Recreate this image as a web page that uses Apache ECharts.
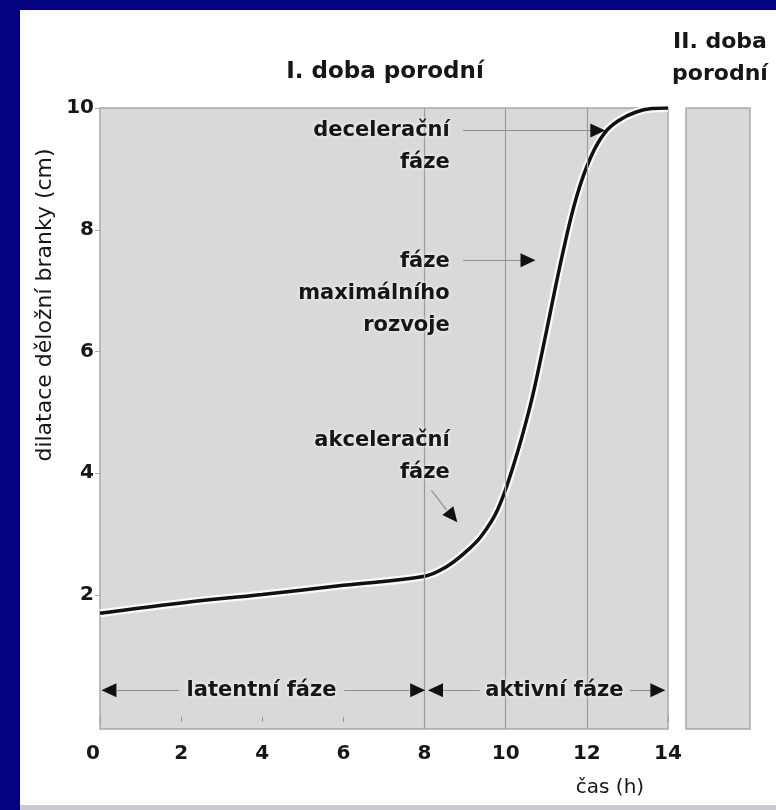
<!DOCTYPE html>
<html><head><meta charset="utf-8">
<script src="https://cdn.jsdelivr.net/npm/echarts@6/dist/echarts.min.js"></script>
<style>
html,body{margin:0;padding:0;background:#03037f;width:776px;height:810px;overflow:hidden}
#frame{position:absolute;left:20px;top:10px;width:756px;height:795px;background:#fff}
#strip{position:absolute;left:20px;top:805px;width:756px;height:5px;background:#c9c9d2}
#chart{width:756px;height:795px}
</style></head><body>
<div id="frame"><div id="chart"></div></div><div id="strip"></div>
<script>
// Dilation curve (time in hours, cervical dilation in cm)
const timeH    = [0,    2,    4,    6,    8,    8.5,  9,    9.4,  9.8,  10.2, 10.6, 10.9, 11.4, 11.75, 12.1, 12.45, 12.8, 13.2, 13.6, 14];
const dilation = [1.70, 1.87, 2.01, 2.16, 2.31, 2.45, 2.70, 2.97, 3.40, 4.15, 5.10, 6.00, 7.60, 8.55,  9.20, 9.60,  9.80, 9.93, 9.99, 10.0];
const xTicks = [0, 2, 4, 6, 8, 10, 12, 14];
const yTicks = [2, 4, 6, 8, 10];
const phaseLines = [8, 10, 12];

// Annotation texts (anchor = right end of first line, data coords)
const noteTexts = ['decelerační\nfáze', 'fáze\nmaximálního\nrozvoje', 'akcelerační\nfáze'];
const noteX = [8.62, 8.62, 8.62];
const noteY = [9.63, 7.47, 4.54];
const noteLines = [2, 3, 2];

// Phase labels along the bottom
const phaseTexts = ['latentní fáze', 'aktivní fáze'];
const phaseX = [3.98, 11.2];
const phaseY = 0.435;

// Arrow shafts [x1,y1,x2,y2]
const shafts = [
  [8.95, 9.63, 12.15, 9.63],
  [8.95, 7.50, 10.40, 7.50],
  [8.17, 3.72, 8.54, 3.40],
  [0.42, 0.435, 1.95, 0.435],
  [6.02, 0.435, 7.63, 0.435],
  [8.42, 0.435, 9.36, 0.435],
  [13.06, 0.435, 13.60, 0.435]
];
// Arrow heads [x, y, rotation]
const heads = [
  [12.27, 9.63, -90],
  [10.55, 7.50, -90],
  [8.69, 3.29, -141],
  [0.22, 0.435, 90],
  [7.83, 0.435, -90],
  [8.27, 0.435, 90],
  [13.75, 0.435, -90]
];

const FONT = 'DejaVu Sans';
const TXT = '#161616';
const curve = timeH.map((t, i) => [t, dilation[i]]);
const halo = {textShadowColor: 'rgba(255,255,255,0.9)', textShadowBlur: 4};

const chart = echarts.init(document.getElementById('chart'), null, {renderer: 'canvas'});
chart.setOption({
  backgroundColor: '#ffffff',
  animation: false,
  grid: [
    {left: 80, width: 568, top: 98, height: 621, show: true, backgroundColor: '#d9d9d9', borderColor: '#a9a9a9', borderWidth: 1.5},
    {left: 666, width: 64, top: 98, height: 621, show: true, backgroundColor: '#d9d9d9', borderColor: '#a9a9a9', borderWidth: 1.5}
  ],
  xAxis: [
    {type: 'value', gridIndex: 0, min: 0, max: 14, interval: 2,
      axisLine: {show: false}, splitLine: {show: false},
      axisTick: {show: true, length: 5, lineStyle: {color: '#999'}},
      axisLabel: {margin: 15, fontSize: 20, fontWeight: 'bold', fontFamily: FONT, color: TXT, alignMinLabel: 'right'}},
    {type: 'value', gridIndex: 1, min: 0, max: 1, show: false}
  ],
  yAxis: [
    {type: 'value', gridIndex: 0, min: -0.2, max: 10,
      axisLine: {show: false}, splitLine: {show: false},
      axisTick: {show: true, length: 5, customValues: yTicks, lineStyle: {color: '#aaa'}},
      axisLabel: {margin: 6, fontSize: 20, fontWeight: 'bold', fontFamily: FONT, color: TXT, customValues: yTicks}},
    {type: 'value', gridIndex: 1, min: 0, max: 1, show: false}
  ],
  graphic: [
    {type: 'text', x: 365, y: 62, style: {text: 'I. doba porodní', font: 'bold 23px "DejaVu Sans"', fill: TXT, align: 'center', verticalAlign: 'middle'}},
    {type: 'text', x: 700, y: 48, style: {text: 'II. doba\nporodní', font: 'bold 22px "DejaVu Sans"', fill: TXT, align: 'center', verticalAlign: 'middle', lineHeight: 32}},
    {type: 'text', x: 25, y: 295, rotation: Math.PI / 2, style: {text: 'dilatace děložní branky (cm)', font: '22px "DejaVu Sans"', fill: TXT, align: 'center', verticalAlign: 'middle'}},
    {type: 'text', x: 590, y: 778, style: {text: 'čas (h)', font: '20px "DejaVu Sans"', fill: TXT, align: 'center', verticalAlign: 'middle'}}
  ],
  series: [
    {type: 'line', xAxisIndex: 0, yAxisIndex: 0, data: curve, smooth: 0.4, showSymbol: false,
      lineStyle: {color: 'rgba(255,255,255,0.85)', width: 8}, z: 2,
      markLine: {silent: true, symbol: ['none', 'none'], label: {show: false},
        lineStyle: {color: '#9c9c9c', width: 1.2, type: 'solid'},
        data: phaseLines.map(v => ({xAxis: v}))}},
    {type: 'line', xAxisIndex: 0, yAxisIndex: 0, data: curve, smooth: 0.4, showSymbol: false,
      lineStyle: {color: '#111', width: 3.5}, z: 4},
    {type: 'scatter', xAxisIndex: 0, yAxisIndex: 0, symbolSize: 0, z: 5, silent: true,
      itemStyle: {opacity: 1},
      data: noteTexts.map((t, i) => ({value: [noteX[i], noteY[i]],
        label: Object.assign({show: true, position: 'inside', formatter: t, align: 'right', verticalAlign: 'middle',
          offset: [0, (noteLines[i] - 1) * 16], lineHeight: 32, fontSize: 21, fontWeight: 'bold', fontFamily: FONT, color: TXT}, halo)})).concat(
        phaseTexts.map((t, i) => ({value: [phaseX[i], phaseY],
          label: Object.assign({show: true, position: 'inside', formatter: t, align: 'center', verticalAlign: 'middle',
            fontSize: 21, fontWeight: 'bold', fontFamily: FONT, color: TXT}, halo)}))),
      markLine: {silent: true, symbol: ['none', 'none'], label: {show: false},
        lineStyle: {color: '#8f8f8f', width: 1.2, type: 'solid'},
        data: shafts.map(s => [{coord: [s[0], s[1]]}, {coord: [s[2], s[3]]}])},
      markPoint: {silent: true, label: {show: false},
        data: heads.map(h => ({coord: [h[0], h[1]], symbol: 'triangle', symbolSize: [14, 15], symbolRotate: h[2], itemStyle: {color: '#111', opacity: 1}}))}
    }
  ]
});
</script>
</body></html>
